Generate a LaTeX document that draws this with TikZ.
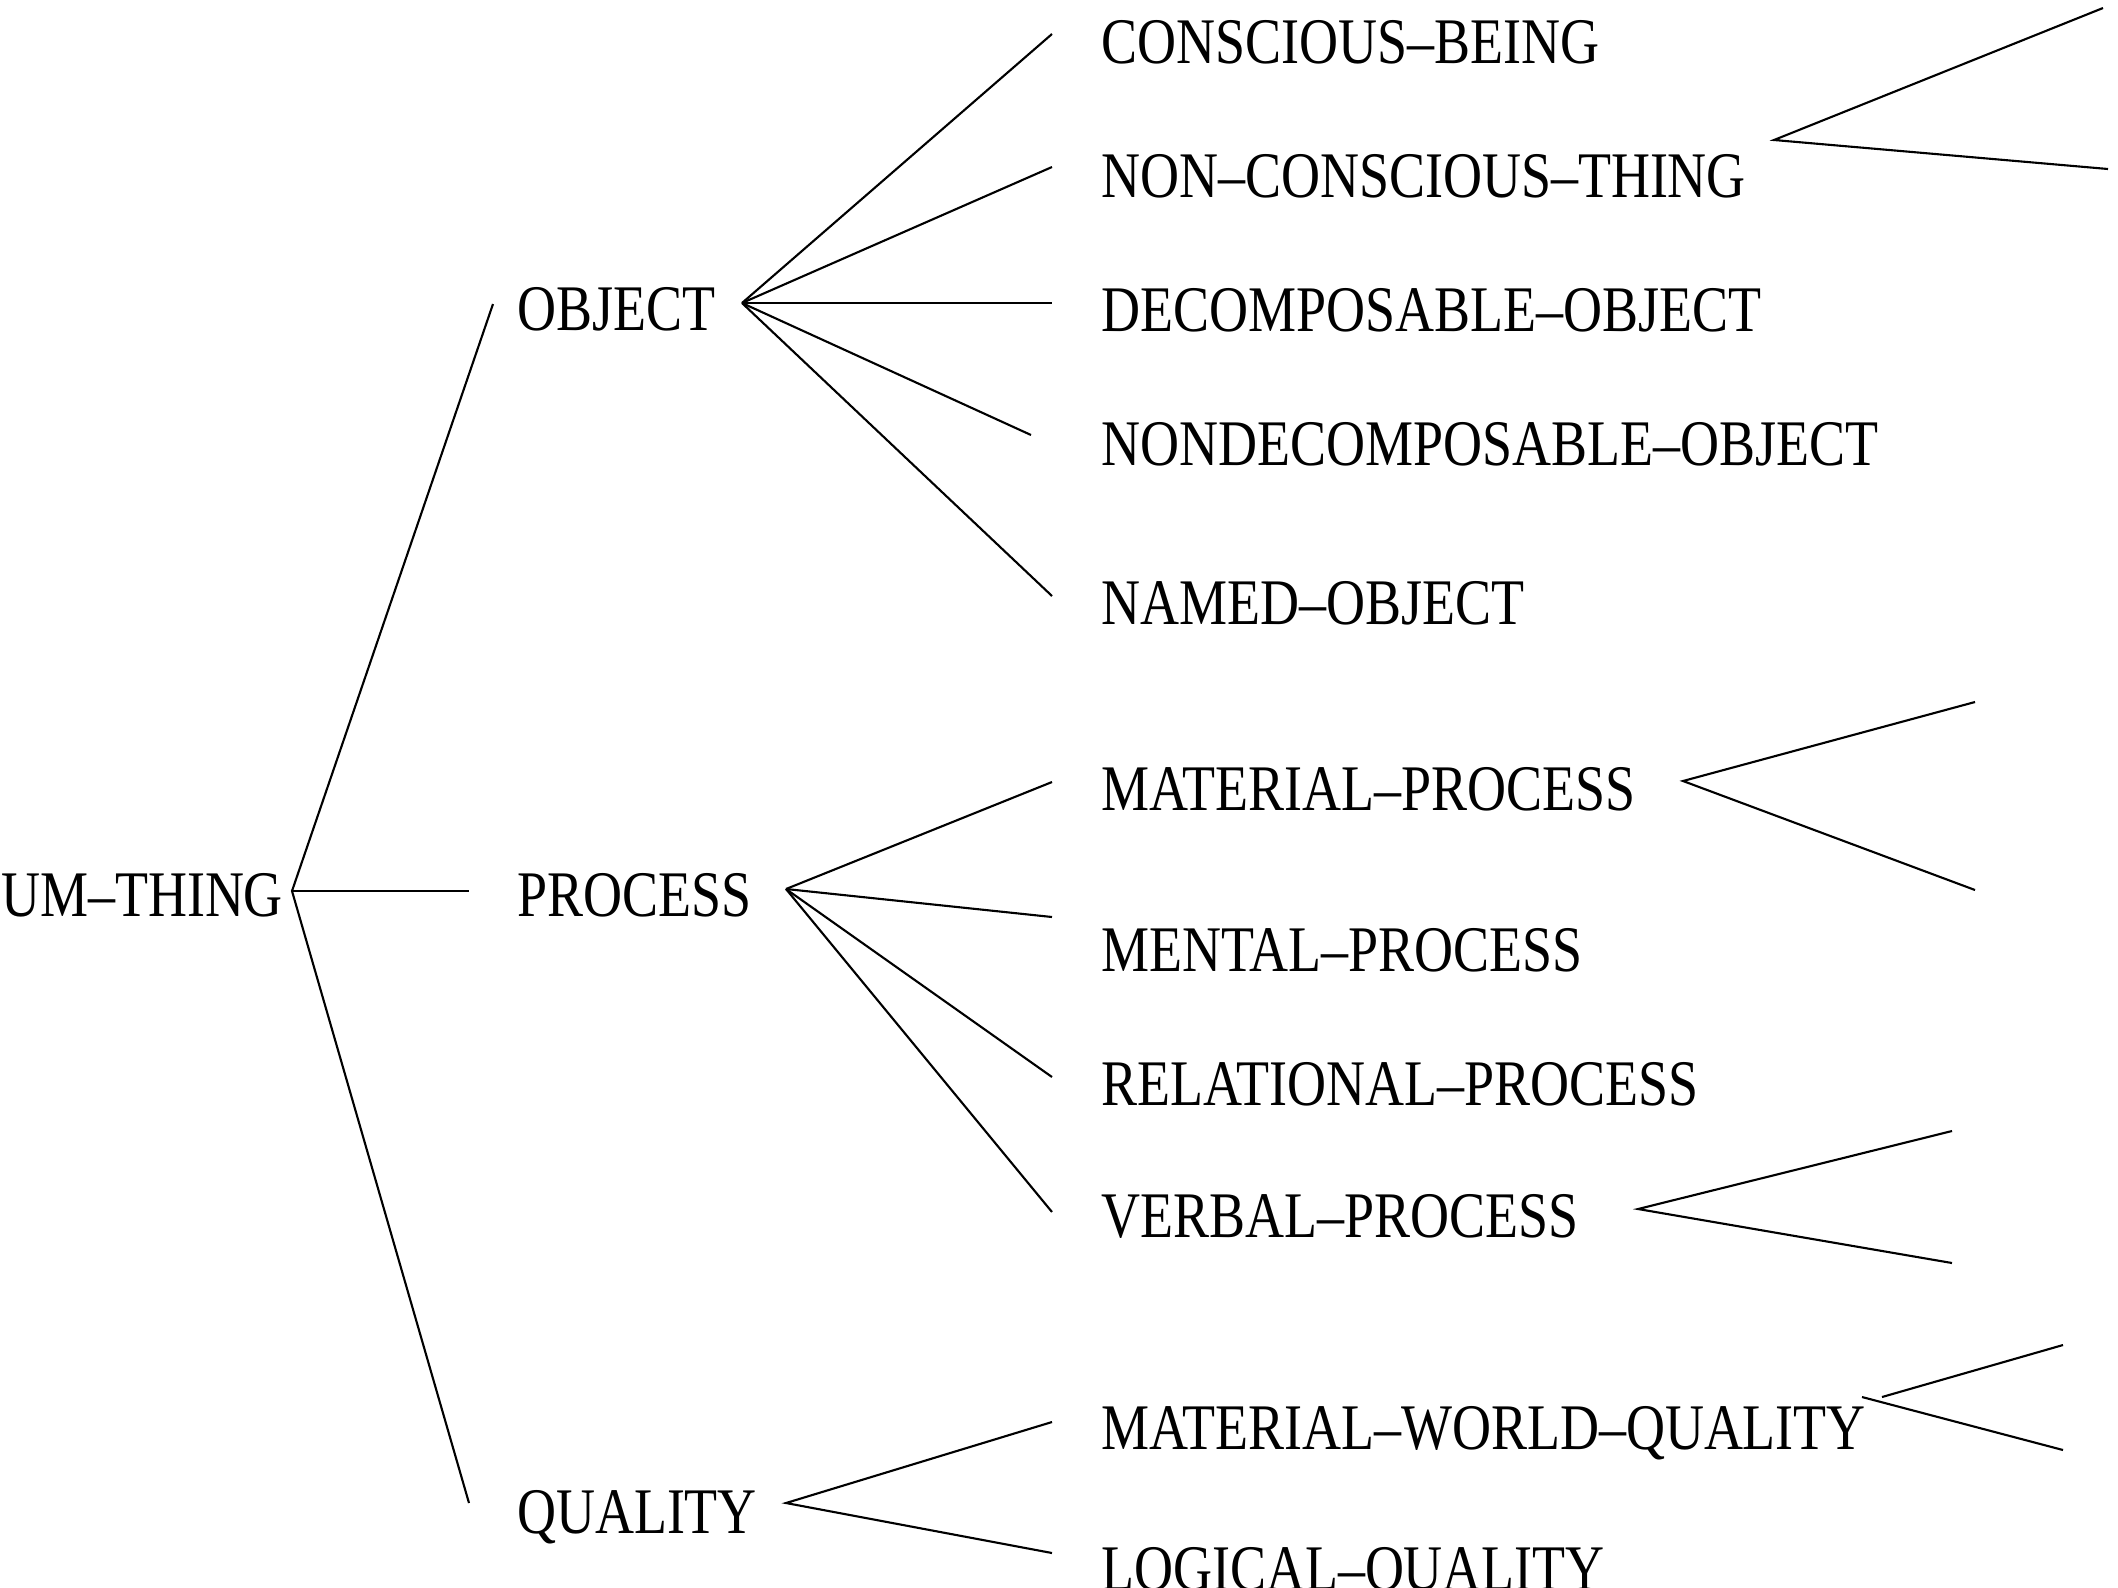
\documentclass[tikz,border=0pt]{standalone}
\usepackage{fontspec}
\setmainfont{Liberation Serif}[FakeStretch=0.83]
\usetikzlibrary{positioning}

\begin{document}
\begin{tikzpicture}[x=0.01cm, y=-0.01cm, line width=0.6pt,
    concept/.style={inner sep=0pt, anchor=base west, font=\fontsize{18.5}{22}\selectfont}]
  \useasboundingbox (0,0) rectangle (2118,1587);

  % concepts
  \node[concept] (um) at (0,916) {UM--THING};
  \node[concept] (obj) at (516,330) {OBJECT};
  \node[concept] (proc) at (516,916) {PROCESS};
  \node[concept] (qual) at (516,1533) {QUALITY};

  \node[concept] (cb) at (1100,63) {CONSCIOUS--BEING};
  \node[concept] (nct) at (1100,197) {NON--CONSCIOUS--THING};
  \node[concept] (dob) at (1100,331) {DECOMPOSABLE--OBJECT};
  \node[concept] (ndob) at (1100,465) {NONDECOMPOSABLE--OBJECT};
  \node[concept] (nob) at (1100,624) {NAMED--OBJECT};

  \node[concept] (matp) at (1100,810) {MATERIAL--PROCESS};
  \node[concept] (menp) at (1100,971) {MENTAL--PROCESS};
  \node[concept] (relp) at (1100,1105) {RELATIONAL--PROCESS};
  \node[concept] (verp) at (1100,1237) {VERBAL--PROCESS};

  \node[concept] (mwq) at (1100,1449) {MATERIAL--WORLD--QUALITY};
  \node[concept] (lq) at (1100,1590) {LOGICAL--QUALITY};

  % branch points
  \coordinate (um-j) at (292,891);
  \coordinate (obj-j) at (742,303);
  \coordinate (proc-j) at (786,889);
  \coordinate (qual-j) at (786,1503);
  \coordinate (nct-j) at (1774,140);
  \coordinate (matp-j) at (1683,781);
  \coordinate (verp-j) at (1638,1209);
  \coordinate (mwq-j) at (1862,1397);

  % line ends in front of the concepts
  \coordinate (obj-in) at (493,304);
  \coordinate (proc-in) at (469,891);
  \coordinate (qual-in) at (469,1503);
  \coordinate (cb-in) at (1052,34);
  \coordinate (nct-in) at (1052,167);
  \coordinate (dob-in) at (1052,303);
  \coordinate (ndob-in) at (1031,435);
  \coordinate (nob-in) at (1052,596);
  \coordinate (matp-in) at (1052,782);
  \coordinate (menp-in) at (1052,917);
  \coordinate (relp-in) at (1052,1077);
  \coordinate (verp-in) at (1052,1212);
  \coordinate (mwq-in) at (1052,1422);
  \coordinate (lq-in) at (1052,1553);

  % open branches at the right
  \coordinate (nct-a) at (2103,8);
  \coordinate (nct-b) at (2108,169);
  \coordinate (matp-a) at (1975,702);
  \coordinate (matp-b) at (1975,890);
  \coordinate (verp-a) at (1952,1131);
  \coordinate (verp-b) at (1952,1263);
  \coordinate (mwq-a) at (2063,1345);
  \coordinate (mwq-b) at (2063,1450);

  \draw (obj-in) -- (um-j) -- (qual-in);
  \draw (um-j) -- (proc-in);

  \draw (obj-j) -- (cb-in);
  \draw (obj-j) -- (nct-in);
  \draw (obj-j) -- (dob-in);
  \draw (obj-j) -- (ndob-in);
  \draw (obj-j) -- (nob-in);

  \draw (proc-j) -- (matp-in);
  \draw (proc-j) -- (menp-in);
  \draw (proc-j) -- (relp-in);
  \draw (proc-j) -- (verp-in);

  \draw (mwq-in) -- (qual-j) -- (lq-in);

  \draw (nct-a) -- (nct-j) -- (nct-b);
  \draw (matp-a) -- (matp-j) -- (matp-b);
  \draw (verp-a) -- (verp-j) -- (verp-b);
  \draw ([xshift=0.2cm]mwq-j) -- (mwq-a);
  \draw (mwq-j) -- (mwq-b);
\end{tikzpicture}
\end{document}
